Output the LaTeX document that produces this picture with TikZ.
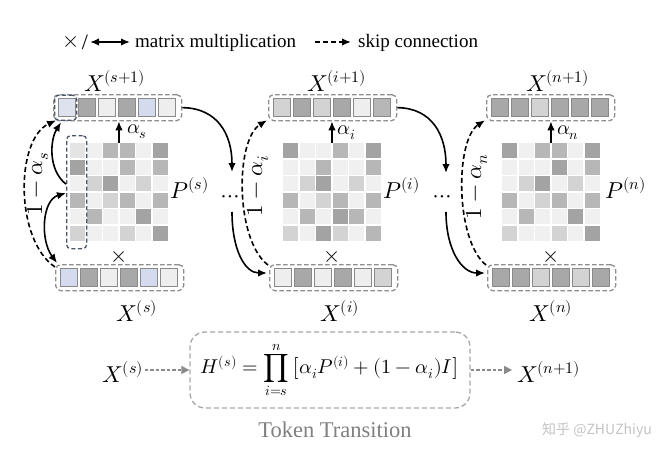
\documentclass[tikz,border=0pt]{standalone}
\usepackage{fontspec}
\usepackage{unicode-math}
\setmainfont{Liberation Serif}
\newfontfamily\cjkfont{Noto Sans CJK SC}
\usetikzlibrary{arrows.meta}

\definecolor{cA}{HTML}{A3A3A3}
\definecolor{cB}{HTML}{B7B7B7}
\definecolor{cC}{HTML}{D3D3D3}
\definecolor{cD}{HTML}{F0F0F0}
\definecolor{cE}{HTML}{E4E4E4}
\definecolor{cG}{HTML}{A8A8A8}
\definecolor{cV}{HTML}{EEEEEE}
\definecolor{cL}{HTML}{D5DBEF}
\definecolor{cM}{HTML}{DEE2EE}
\definecolor{boxgray}{HTML}{8E8E8E}
\definecolor{cellgray}{HTML}{8A8A8A}
\definecolor{hlblue}{HTML}{4A5668}
\definecolor{arrgray}{HTML}{8A8A8A}
\definecolor{fboxgray}{HTML}{A8A8A8}
\definecolor{ttgray}{HTML}{808080}
\definecolor{wmgray}{HTML}{C4C4C4}

\tikzset{
  vecbox/.style={draw=boxgray, dash pattern=on 4.5pt off 2.5pt, line width=1.3pt, rounded corners=5pt, minimum width=128pt, minimum height=26pt, inner sep=0pt},
  cellst/.style={draw=cellgray, line width=0.9pt},
  hlbox/.style={draw=hlblue, dash pattern=on 4pt off 2.5pt, line width=1.3pt, rounded corners=4pt, inner sep=0pt},
  arr/.style={line width=1.6pt, -{Latex[length=9pt,width=7.5pt]}},
  darr/.style={line width=1.6pt, {Latex[length=9pt,width=7.5pt]}-{Latex[length=9pt,width=7.5pt]}},
  dsh/.style={line width=1.6pt, dash pattern=on 5pt off 3pt, -{Latex[length=9pt,width=7.5pt]}},
  garr/.style={draw=arrgray, line width=1.3pt, dash pattern=on 3.5pt off 2pt, -{Triangle[length=8pt,width=8pt,fill=arrgray]}},
  lbl/.style={font=\fontsize{23}{27}\selectfont, inner sep=1pt},
  alab/.style={font=\fontsize{20}{24}\selectfont, inner sep=1pt},
  tms/.style={font=\fontsize{22}{26}\selectfont, inner sep=1pt},
  lg/.style={font=\fontsize{19}{23}\selectfont, inner sep=0pt},
  fbox/.style={draw=fboxgray, dash pattern=on 5pt off 3pt, line width=1.3pt, rounded corners=15pt, minimum width=280pt, minimum height=76pt, font=\fontsize{20}{24}\selectfont},
  tt/.style={font=\fontsize{22.5}{26}\selectfont, text=ttgray},
  wm/.style={font=\fontsize{14}{17}\selectfont, text=wmgray},
}

\newcommand\vecrow[4]{%
  \node[vecbox, anchor=north west] (#1) at (#2,#3) {};
  \foreach \c [count=\k from 0] in {#4} {
    \filldraw[fill=\c, cellst] ({#2+5.25+\k*20.1},{#3+4}) rectangle ++(17,18);
  }
}
\newcommand\mygrid[4]{%
  \node[inner sep=0pt, minimum width=97.5pt, minimum height=97.5pt, anchor=north west] (#1) at (#2,#3) {};
  \foreach \c [count=\k from 0] in {#4} {
    \pgfmathtruncatemacro\rr{div(\k,6)}
    \pgfmathtruncatemacro\qq{mod(\k,6)}
    \fill[fill=\c] ({#2+\qq*16.5},{#3+\rr*16.5}) rectangle ++(15,15);
  }
}

\begin{document}
\begin{tikzpicture}[x=1pt,y=-1pt]
\useasboundingbox (0,0) rectangle (666,460);
\fill[white] (0,0) rectangle (666,460);

% legend
\node[tms] (lx) at (71,42) {$\times$};
\node[lg, font=\fontsize{22}{26}\selectfont] (lsl) at (85,42) {/};
\coordinate (la) at (90,42);
\coordinate (lb) at (130,42);
\draw[darr] (la) -- (lb);
\node[lg, anchor=base west] (lmm) at (135,48) {matrix multiplication};
\coordinate (lc) at (315,42);
\coordinate (ld) at (351,42);
\draw[dsh] (lc) -- (ld);
\node[lg, anchor=base west] (lsk) at (358,48) {skip connection};

% vectors
\vecrow{stop}{53}{94}{cM,cG,cV,cG,cL,cV}
\vecrow{sbot}{55}{264}{cL,cG,cV,cG,cL,cV}
\vecrow{itop}{268}{94}{cC,cG,cC,cG,cV,cB}
\vecrow{ibot}{269}{264}{cV,cG,cV,cG,cV,cC}
\vecrow{ntop}{486}{94}{cG,cG,cC,cG,cG,cG}
\vecrow{nbot}{487}{264}{cG,cG,cC,cG,cC,cG}

% matrices
\mygrid{Ms}{70}{143}{cE,cD,cB,cB,cD,cA, cA,cD,cD,cB,cD,cB, cD,cC,cA,cD,cC,cD, cB,cD,cC,cB,cD,cB, cD,cB,cD,cD,cA,cD, cC,cD,cD,cC,cD,cA}
\mygrid{Mi}{283}{143}{cA,cD,cD,cB,cD,cA, cD,cD,cB,cD,cD,cB, cD,cC,cA,cD,cC,cD, cB,cD,cC,cB,cD,cB, cD,cB,cD,cA,cB,cD, cC,cD,cA,cC,cD,cB}
\mygrid{Mn}{502}{143}{cA,cD,cB,cB,cD,cA, cD,cD,cD,cA,cD,cB, cD,cC,cA,cD,cC,cD, cB,cD,cC,cB,cD,cB, cD,cB,cD,cD,cA,cD, cC,cD,cD,cC,cD,cA}

% highlights
\node[hlbox, anchor=north west, minimum width=20pt, minimum height=113pt] (hcol) at (66,135) {};
\node[hlbox, anchor=north west, minimum width=22pt, minimum height=25pt] (hcell) at (54,94.5) {};

% labels
\node[lbl, anchor=base] (Xs1) at (115,91) {$X^{(s+1)}$};
\node[lbl, anchor=base] (Xs) at (137,321) {$X^{(s)}$};
\node[lbl, anchor=base] (Xi1) at (337,91) {$X^{(i+1)}$};
\node[lbl, anchor=base] (Xi) at (340,321) {$X^{(i)}$};
\node[lbl, anchor=base] (Xn1) at (558,91) {$X^{(n+1)}$};
\node[lbl, anchor=base] (Xn) at (551,321) {$X^{(n)}$};
\node[lbl, anchor=base] (Ps) at (190,198) {$P^{(s)}$};
\node[lbl, anchor=base] (Pi) at (402,198) {$P^{(i)}$};
\node[lbl, anchor=base] (Pn) at (626,198) {$P^{(n)}$};

% alpha arrows
\draw[arr] (Ms.north) -- (Ms.north |- stop.south);
\draw[arr] (Mi.north) -- (Mi.north |- itop.south);
\draw[arr] (Mn.north) -- (Mn.north |- ntop.south);
\node[alab] (as) at (137,132) {$\alpha_s$};
\node[alab] (ai) at (347,133) {$\alpha_i$};
\node[alab] (an) at (568,133) {$\alpha_n$};

% times
\node[tms] (ms) at (Ms.south |- 0,257) {$\times$};
\node[tms] (mi) at (Mi.south |- 0,257) {$\times$};
\node[tms] (mn) at (Mn.south |- 0,257) {$\times$};

% 1 - alpha
\node[lbl, rotate=90] (oas) at (38,184) {$1-\alpha_s$};
\node[lbl, rotate=90] (oai) at (258,186) {$1-\alpha_i$};
\node[lbl, rotate=90] (oan) at (477,187) {$1-\alpha_n$};

% block s connectors
\coordinate (a1) at ([yshift=-3pt]sbot.north west);
\coordinate (a2) at ([xshift=3pt,yshift=1pt]stop.south west);
\draw[dsh] (a1) .. controls (15,240) and (15,140) .. (a2);
\coordinate (b1) at ([yshift=8pt]hcol.west);
\coordinate (b2) at ([xshift=8pt,yshift=-1pt]stop.south west);
\draw[arr] (b1) .. controls (48,170) and (50,140) .. (b2);
\coordinate (c1) at ([yshift=-1pt]hcol.west);
\coordinate (c2) at ([xshift=2pt,yshift=1pt]sbot.north west);
\draw[darr] (c1) .. controls (42,200) and (40,240) .. (c2);

% transition s -> i
\coordinate (t1e) at (232,172);
\coordinate (t1s) at (232,212);
\node[lbl, anchor=base] (d1) at (230,202) {$\cdots$};
\draw[arr] (stop.east) .. controls (218,108) and (232,135) .. (t1e);
\coordinate (e1) at ([xshift=-2pt,yshift=-9pt]ibot.north west);
\draw[arr] (t1s) .. controls (232,250) and (245,273) .. (e1);

% block i skip
\coordinate (a3) at ([xshift=-1pt,yshift=-1pt]ibot.north west);
\coordinate (a4) at ([xshift=-1pt,yshift=1pt]itop.south west);
\draw[dsh] (a3) .. controls (235,240) and (235,140) .. (a4);

% transition i -> n
\coordinate (t2e) at (446,173);
\coordinate (t2s) at (446,212);
\node[lbl, anchor=base] (d2) at (442,202) {$\cdots$};
\draw[arr] (itop.east) .. controls (432,108) and (446,135) .. (t2e);
\coordinate (e2) at ([xshift=-2pt,yshift=-9pt]nbot.north west);
\draw[arr] (t2s) .. controls (446,250) and (462,273) .. (e2);

% block n skip
\coordinate (a5) at ([xshift=-1pt,yshift=-1pt]nbot.north west);
\coordinate (a6) at ([xshift=-1pt,yshift=1pt]ntop.south west);
\draw[dsh] (a5) .. controls (455,240) and (455,140) .. (a6);

% bottom formula
\node[lbl, anchor=base] (bXs) at (123,382) {$X^{(s)}$};
\node[fbox] (H) at (330,370) {$H^{(s)} = \displaystyle\prod_{i=s}^{n} \big[\alpha_i P^{(i)} + (1-\alpha_i) I\big]$};
\node[lbl, anchor=base] (bXn) at (549,382) {$X^{(n+1)}$};
\draw[garr] (bXs.east |- H.west) -- (H.west);
\draw[garr] (H.east) -- ([xshift=-4pt]bXn.west |- H.east);
\node[tt] (tok) at (335,430) {Token Transition};
\node[wm] (wmk) at (597,430) {\cjkfont 知乎 @ZHUZhiyu};
\end{tikzpicture}
\end{document}
